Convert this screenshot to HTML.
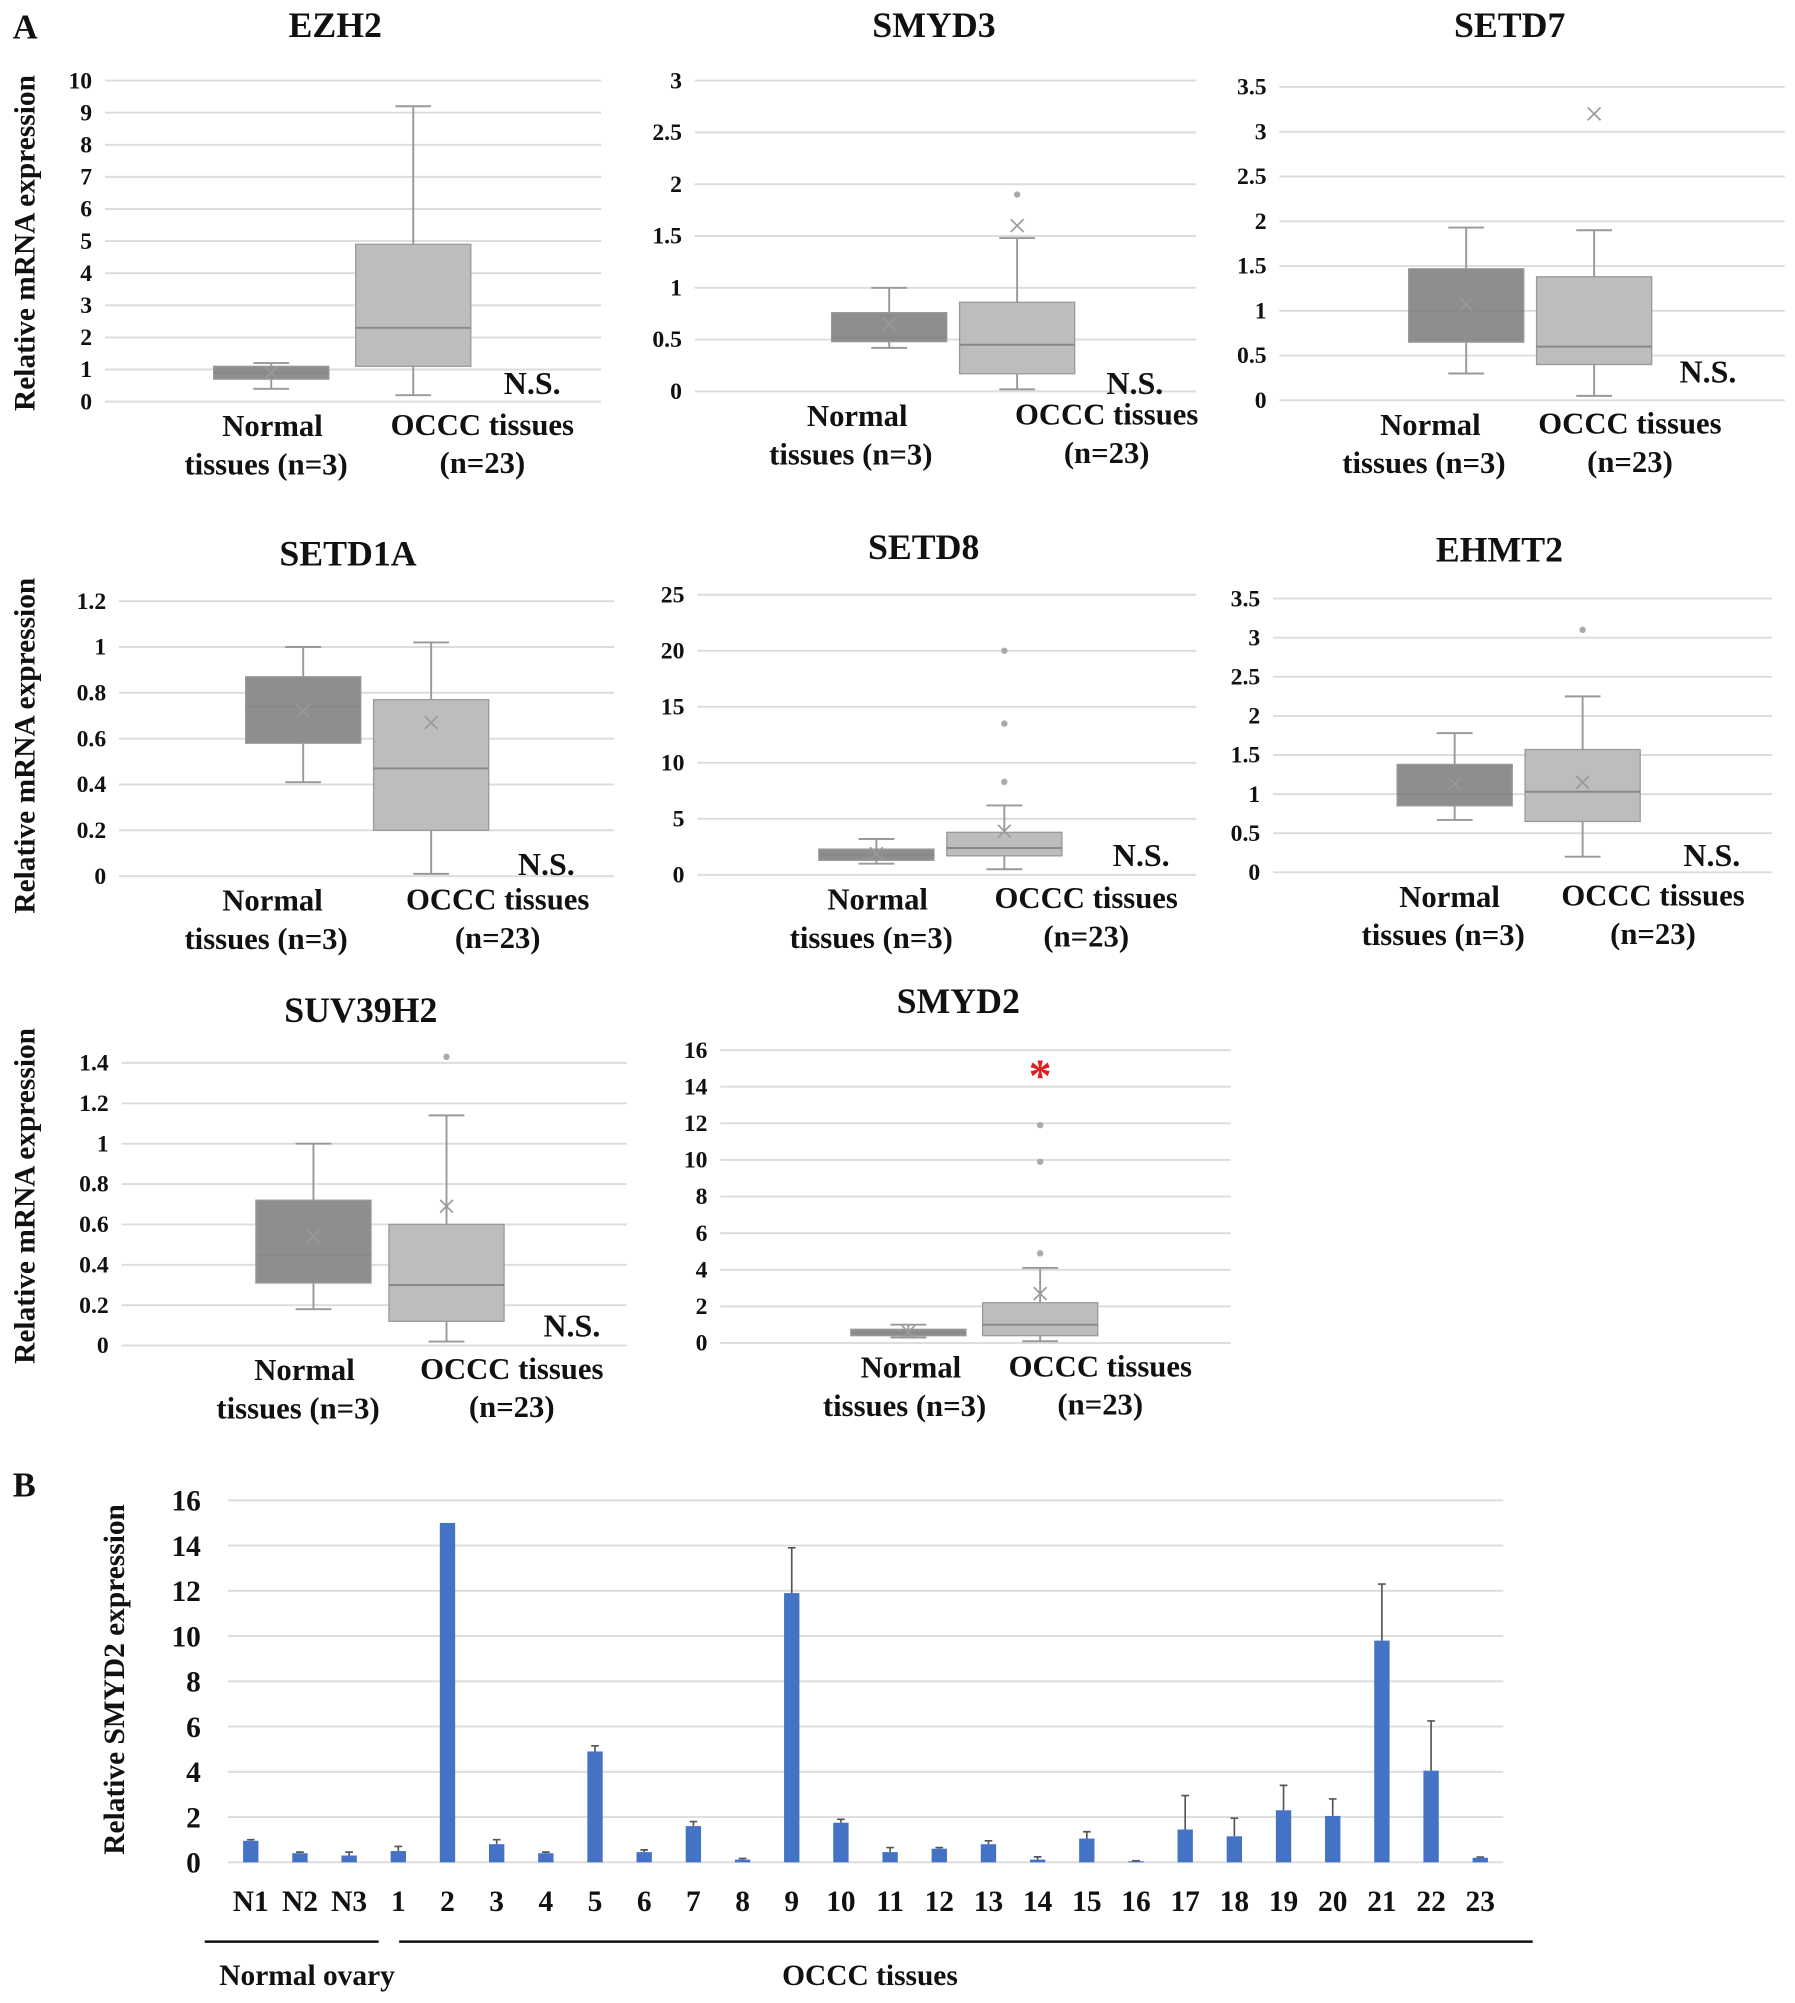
<!DOCTYPE html>
<html><head><meta charset="utf-8"><style>
html,body{margin:0;padding:0;background:#fff}
svg{display:block}
text{font-family:"Liberation Serif",serif;font-weight:bold;fill:#111}
</style></head><body>
<svg id="fig" width="1795" height="2003" viewBox="0 0 1403 1566" preserveAspectRatio="none" xmlns="http://www.w3.org/2000/svg">
<text x="10" y="30" font-size="27">A</text>
<text x="10" y="1170" font-size="27">B</text>
</svg>
<script>
const NS='http://www.w3.org/2000/svg';
const svg=document.getElementById('fig');
function mk(tag,attrs,parent,txt){const e=document.createElementNS(NS,tag);for(const k in attrs)e.setAttribute(k,attrs[k]);if(txt!==undefined)e.textContent=txt;(parent||svg).appendChild(e);return e;}

// ---- Panel A box plot data ----
const genes=['EZH2','SMYD3','SETD7','SETD1A','SETD8','EHMT2','SUV39H2','SMYD2'];
const yMaxs=[10,3,3.5,1.2,25,3.5,1.4,16];
const ySteps=[1,0.5,0.5,0.2,5,0.5,0.2,2];
// [whiskerLow, q1, median, q3, whiskerHigh, mean]
const normalStats=[[0.4,0.7,0.9,1.1,1.2,0.9],[0.42,0.48,0.52,0.76,1.0,0.65],[0.3,0.65,1.0,1.47,1.93,1.07],[0.41,0.58,0.74,0.87,1.0,0.72],[1.0,1.3,1.8,2.3,3.2,1.9],[0.67,0.85,1.0,1.38,1.78,1.13],[0.18,0.31,0.45,0.72,1.0,0.54],[0.3,0.4,0.55,0.75,1.0,0.6]];
const occcStats=[[0.2,1.1,2.3,4.9,9.2,null],[0.02,0.17,0.45,0.86,1.48,1.6],[0.05,0.4,0.6,1.38,1.9,3.2],[0.01,0.2,0.47,0.77,1.02,0.67],[0.5,1.7,2.4,3.8,6.2,3.9],[0.2,0.65,1.03,1.57,2.25,1.15],[0.02,0.12,0.3,0.6,1.14,0.69],[0.1,0.4,1.0,2.2,4.1,2.7]];
const occcOutliers=[[],[1.9],[],[],[8.3,13.5,20],[3.1],[1.43],[4.9,9.9,11.9]];
const tickDecimals=[0,1,1,1,0,1,1,0];
const sigMarks=['N.S.','N.S.','N.S.','N.S.','N.S.','N.S.','N.S.','*'];

// layout: [plotLeft, plotRight, yTopPix, yZeroPix, titleX, titleY, normCx, occCx, normLabelX, occLabelX, nsX, nsY]
const layouts=[
[82,470,63,314,262,29,212,323,210,377,416,308],
[543,935,63,306,730,29,695,795,667,865,887,308],
[1000,1395,68,313,1180,29,1146,1246,1115,1274,1335,299],
[93,480,470,685,272,442,237,337,210,389,427,684],
[545,935,465,684,722,437,685,785,683,849,892,677],
[995,1385,468,682,1172,439,1137,1237,1130,1292,1338,677],
[95,490,831,1052,282,799,245,349,235,400,447,1045],
[563,962,821,1050,749,792,710,813,709,860,0,0]];

genes.forEach((g,i)=>{
  const [L,R,T,B,tx,ty,nc,oc,nlx,olx,nsx,nsy]=layouts[i];
  const y=v=>B-(v/yMaxs[i])*(B-T);
  const grp=mk('g',{});
  
  
  const t=mk('text',{x:tx,y:ty,'font-size':28,'text-anchor':'middle'},grp,g);
  
  
  for(let v=0;v<=yMaxs[i]+1e-9;v+=ySteps[i]){
    const gl=mk('line',{x1:L,x2:R,y1:y(v),y2:y(v),stroke:'#dcdcdc','stroke-width':1.5},grp);
    
    
    const tl=mk('text',{x:L-10,y:y(v)+6,'font-size':18.5,'text-anchor':'end'},grp,(+v.toFixed(tickDecimals[i])).toString());
    
    
  }
  function box(s,cx,fill,name,outs){
    const w=45;
    const bg=mk('g',{},grp);
    
    
    mk('line',{x1:cx,x2:cx,y1:y(s[0]),y2:y(s[4]),stroke:'#999','stroke-width':1.5},bg);
    mk('line',{x1:cx-14,x2:cx+14,y1:y(s[0]),y2:y(s[0]),stroke:'#999','stroke-width':1.5},bg);
    mk('line',{x1:cx-14,x2:cx+14,y1:y(s[4]),y2:y(s[4]),stroke:'#999','stroke-width':1.5},bg);
    mk('rect',{x:cx-w,y:y(s[3]),width:2*w,height:y(s[1])-y(s[3]),fill:fill,stroke:'#999','stroke-width':1},bg);
    mk('line',{x1:cx-w,x2:cx+w,y1:y(s[2]),y2:y(s[2]),stroke:'#888','stroke-width':1.5},bg);
    if(s[5]!==null){const my=y(s[5]);mk('path',{d:`M${cx-5} ${my-5}L${cx+5} ${my+5}M${cx+5} ${my-5}L${cx-5} ${my+5}`,stroke:'#999','stroke-width':1.3},bg);}
    outs.forEach(o=>{const c=mk('circle',{cx:cx,cy:y(o),r:2.5,fill:'#aaa'},bg);
      
      });
  }
  box(normalStats[i],nc,'#8e8e8e','box-normal',[]);
  box(occcStats[i],oc,'#bdbdbd','box-occc',occcOutliers[i]);
  const n1=mk('text',{x:nlx+3,y:B+27,'font-size':24,'text-anchor':'middle'},grp,'Normal');
  
  
  mk('text',{x:nlx-2,y:B+57,'font-size':24,'text-anchor':'middle'},grp,'tissues (n=3)');
  const o1=mk('text',{x:olx,y:B+26,'font-size':24,'text-anchor':'middle'},grp,'OCCC tissues');
  
  
  mk('text',{x:olx,y:B+56,'font-size':24,'text-anchor':'middle'},grp,'(n=23)');
  let sm;
  if(sigMarks[i]==='*'){sm=mk('text',{x:oc,y:T+32,'font-size':36,'text-anchor':'middle',style:'fill:#e02020'},grp,'*');}
  else sm=mk('text',{x:nsx,y:nsy,'font-size':25,'text-anchor':'middle'},grp,'N.S.');
  
  
});
[190,583,935].forEach(cy=>{
  const t=mk('text',{x:0,y:0,'font-size':23,'text-anchor':'middle',transform:`translate(27 ${cy}) rotate(-90)`},svg,'Relative mRNA expression');
  
  
});

// ---- Panel B bar chart data ----
const barCats=['N1','N2','N3','1','2','3','4','5','6','7','8','9','10','11','12','13','14','15','16','17','18','19','20','21','22','23'];
const barVals=[0.95,0.4,0.3,0.5,15,0.8,0.4,4.9,0.45,1.6,0.12,11.9,1.75,0.45,0.6,0.8,0.12,1.05,0.05,1.45,1.15,2.3,2.05,9.8,4.05,0.2];
const barErrs=[0.05,0.05,0.15,0.2,0,0.2,0.05,0.25,0.1,0.2,0.05,2.0,0.15,0.2,0.05,0.15,0.12,0.3,0.02,1.5,0.8,1.1,0.75,2.5,2.2,0.03];
const barTicks=[0,2,4,6,8,10,12,14,16];
const bL=178,bR=1175,bZero=1456,bTop=1173,bMax=16;
const by=v=>bZero-(v/bMax)*(bZero-bTop);
const bx=i=>196+i*(1157-196)/(barCats.length-1);
const bg=mk('g',{});


barTicks.forEach(v=>{
  const gl=mk('line',{x1:bL,x2:bR,y1:by(v),y2:by(v),stroke:'#dcdcdc','stroke-width':1.5},bg);
  
  
  const tl=mk('text',{x:157,y:by(v)+8,'font-size':23,'text-anchor':'end'},bg,String(v));
  
  
});
barCats.forEach((c,i)=>{
  const x=bx(i),v=barVals[i],e=barErrs[i];
  if(e>0){const el=mk('path',{d:`M${x} ${by(v)}V${by(v+e)}M${x-3} ${by(v+e)}H${x+3}`,stroke:'#555','stroke-width':1.3},bg);
    
    }
  const r=mk('rect',{x:x-6,y:by(v),width:12,height:bZero-by(v),fill:'#4472c4'},bg);
  
  
  const t=mk('text',{x:x,y:1494,'font-size':23,'text-anchor':'middle'},bg,c);
  
  
});
const yt=mk('text',{x:0,y:0,'font-size':23,'text-anchor':'middle',transform:'translate(97 1313) rotate(-90)'},bg,'Relative SMYD2 expression');


mk('line',{x1:160,x2:296,y1:1518,y2:1518,stroke:'#111','stroke-width':2},bg);
mk('line',{x1:312,x2:1198,y1:1518,y2:1518,stroke:'#111','stroke-width':2},bg);
const g1=mk('text',{x:240,y:1552,'font-size':23,'text-anchor':'middle'},bg,'Normal ovary');


const g2=mk('text',{x:680,y:1552,'font-size':23,'text-anchor':'middle'},bg,'OCCC tissues');


</script>
</body></html>
